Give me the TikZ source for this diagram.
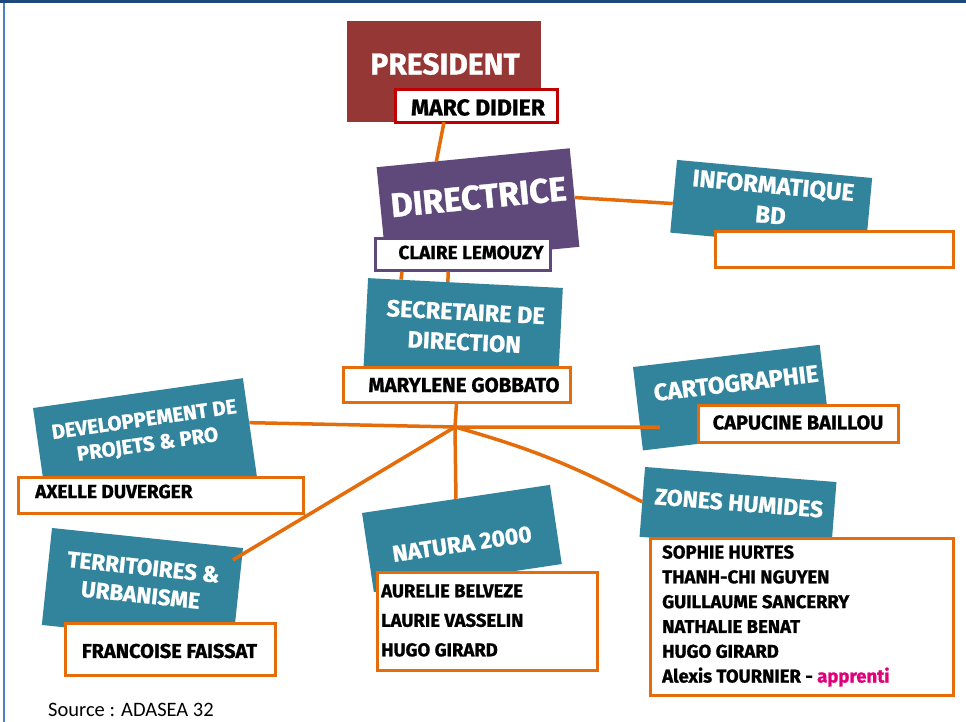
\documentclass[tikz,border=0pt]{standalone}
\usepackage{fontspec}
\setmainfont{Fira Sans}
\newfontfamily\heavyfont{Fira Sans}[BoldFeatures={FakeBold=1}]
\newfontfamily\srcfont{Carlito}
\usetikzlibrary{calc}
\definecolor{tealB}{HTML}{31849B}
\definecolor{orangeL}{HTML}{E46C0A}
\definecolor{purpleD}{HTML}{5F497A}
\definecolor{redD}{HTML}{953735}
\definecolor{redB}{HTML}{C00000}
\definecolor{frameB}{HTML}{1F497D}
\definecolor{frameL}{HTML}{4F81BD}
\definecolor{magentaA}{HTML}{E0007A}
\newcommand\dfs[2]{\heavyfont\fontsize{#1}{#2}\selectfont\bfseries}
\begin{document}
\begin{tikzpicture}[x=1pt,y=-1pt,
  link/.style={draw=orangeL, line width=3.5pt},
  deptbox/.style={fill=tealB, inner sep=0pt},
  depttxt/.style={text=white, font=\dfs{23}{29}, align=center, inner sep=0pt},
  namebox/.style={draw=orangeL, line width=3pt, fill=white, inner sep=0pt},
  nametxt/.style={text=black, font=\dfs{19}{24}, inner sep=0pt},
  bigtxt/.style={text=white, inner sep=0pt, font=\dfs{30}{36}}]
\useasboundingbox (0,0) rectangle (966,722);
\fill[white] (0,0) rectangle (966,722);
\fill[frameB] (0,0) rectangle (966,3.5);
\draw[frameL, line width=2pt] (3.5,3.5) -- (3.5,722);

% President
\node[fill=redD, inner sep=0pt, minimum width=194pt, minimum height=101pt] (pres) at (444,71.5) {};
\node[bigtxt] (prest) at (445,64) {PRESIDENT};
\node[namebox, draw=redB, minimum width=162pt, minimum height=33pt] (marcbox) at (476,106.5) {};
\node[nametxt, font=\dfs{23}{26}] (marc) at (478,107.5) {MARC DIDIER};

% Directrice
\node[fill=purpleD, inner sep=0pt, rotate=5.6, minimum width=194pt, minimum height=99pt] (dir) at (478,207) {};
\node[bigtxt, rotate=5.6, font=\dfs{34}{40}] (dirt) at (478.5,197) {DIRECTRICE};
\node[namebox, draw=purpleD, minimum width=175pt, minimum height=32pt] (clairebox) at (462.5,254) {};
\node[nametxt] (claire) at (471,252.5) {CLAIRE LEMOUZY};

% Secretaire
\node[deptbox, rotate=-2.9, minimum width=195pt, minimum height=92pt] (sec) at (463.1,329) {};
\node[depttxt, rotate=-2.9, font=\dfs{23.5}{30}] (sect) at (465,327) {SECRETAIRE DE\\DIRECTION};
\node[namebox, minimum width=227pt, minimum height=35pt] (marybox) at (456.5,384.5) {};
\node[nametxt, font=\dfs{20.5}{24}] (mary) at (464,385) {MARYLENE GOBBATO};

% Informatique
\node[deptbox, rotate=-5.3, minimum width=196pt, minimum height=73pt] (info) at (771.2,205.3) {};
\node[depttxt, rotate=-5.3, font=\dfs{24}{30}] (infot) at (772,200) {INFORMATIQUE\\BD};
\node[namebox, minimum width=238pt, minimum height=36pt] (infobox) at (834,249) {};

% Cartographie
\node[deptbox, rotate=6.8, minimum width=188pt, minimum height=84pt] (carto) at (731.3,397.6) {};
\node[depttxt, rotate=6.8, font=\dfs{24}{30}] (cartot) at (736,383) {CARTOGRAPHIE};
\node[namebox, minimum width=200pt, minimum height=37pt] (capubox) at (798,423.5) {};
\node[nametxt, font=\dfs{20}{24}] (capu) at (798,422.5) {CAPUCINE BAILLOU};

% Developpement
\node[deptbox, rotate=8.1, minimum width=212pt, minimum height=100pt] (dev) at (145,442.6) {};
\node[depttxt, rotate=8.1, font=\dfs{20.5}{25}] (devt) at (146,433) {DEVELOPPEMENT DE\\PROJETS \& PRO};
\node[namebox, minimum width=285pt, minimum height=36pt] (axellebox) at (160.5,495) {};
\node[nametxt, anchor=west] (axelle) at (35,491.5) {AXELLE DUVERGER};

% Territoires
\node[deptbox, rotate=-6, minimum width=192pt, minimum height=97.5pt] (terr) at (142.4,586.5) {};
\node[depttxt, rotate=-6, font=\dfs{22.5}{28}] (terrt) at (142,581) {TERRITOIRES \&\\URBANISME};
\node[namebox, minimum width=210pt, minimum height=52pt] (francbox) at (170,649) {};
\node[nametxt, font=\dfs{20}{24}] (franc) at (169.5,651) {FRANCOISE FAISSAT};

% Natura 2000
\node[deptbox, rotate=8.5, minimum width=190pt, minimum height=80pt] (natura) at (461.9,538.5) {};
\node[depttxt, rotate=8.5] (naturat) at (462,544) {NATURA 2000};
\node[namebox, minimum width=220pt, minimum height=98pt] (naturabox) at (487,621) {};
\node[nametxt, anchor=west, align=left, font=\dfs{18.5}{29.5}] (naturanames) at (381,620.5) {AURELIE BELVEZE\\LAURIE VASSELIN\\HUGO GIRARD};

% Zones humides
\node[deptbox, rotate=-4.5, minimum width=192pt, minimum height=70pt] (zones) at (738,509.4) {};
\node[depttxt, rotate=-4.5] (zonest) at (739,503) {ZONES HUMIDES};
\node[namebox, minimum width=303pt, minimum height=157pt] (zonesbox) at (801.5,616.5) {};
\node[nametxt, anchor=west, align=left, font=\dfs{18.5}{24.8}] (zonesnames) at (662,616) {SOPHIE HURTES\\THANH-CHI NGUYEN\\GUILLAUME SANCERRY\\NATHALIE BENAT\\HUGO GIRARD\\Alexis TOURNIER - \textcolor{magentaA}{apprenti}};

% Connectors
\coordinate (hub) at (455,427);
\draw[link] (pres.south) -- ($(dir.north west)!0.31!(dir.north east)$);
\draw[link] (dir.east) -- ($(info.north west)!0.6!(info.south west)$);
\draw[link] ($(clairebox.south west)!0.16!(clairebox.south east)$) -- ($(sec.north west)!0.17!(sec.north east)$);
\draw[link] ($(clairebox.south west)!0.42!(clairebox.south east)$) -- ($(sec.north west)!0.41!(sec.north east)$);
\draw[link] (marybox.south) -- (hub);
\draw[link] ($(dev.north east)!0.45!(dev.south east)$) -- (hub) -- ($(carto.north west)!0.72!(carto.south west)+(20,0)$);
\draw[link] (hub) -- ($(terr.north east)!0.124!(terr.south east)+(-9,0)$);
\draw[link] (hub) -- ($(natura.north west)!0.5!(natura.north east)$);
\draw[link] (hub) to[bend left=6] ($(zones.north west)!0.5!(zones.south west)$);

\node[font=\srcfont\fontsize{20.5}{22}\selectfont, anchor=west, inner sep=0pt] (src) at (48,710) {Source : ADASEA 32};
\end{tikzpicture}
\end{document}
